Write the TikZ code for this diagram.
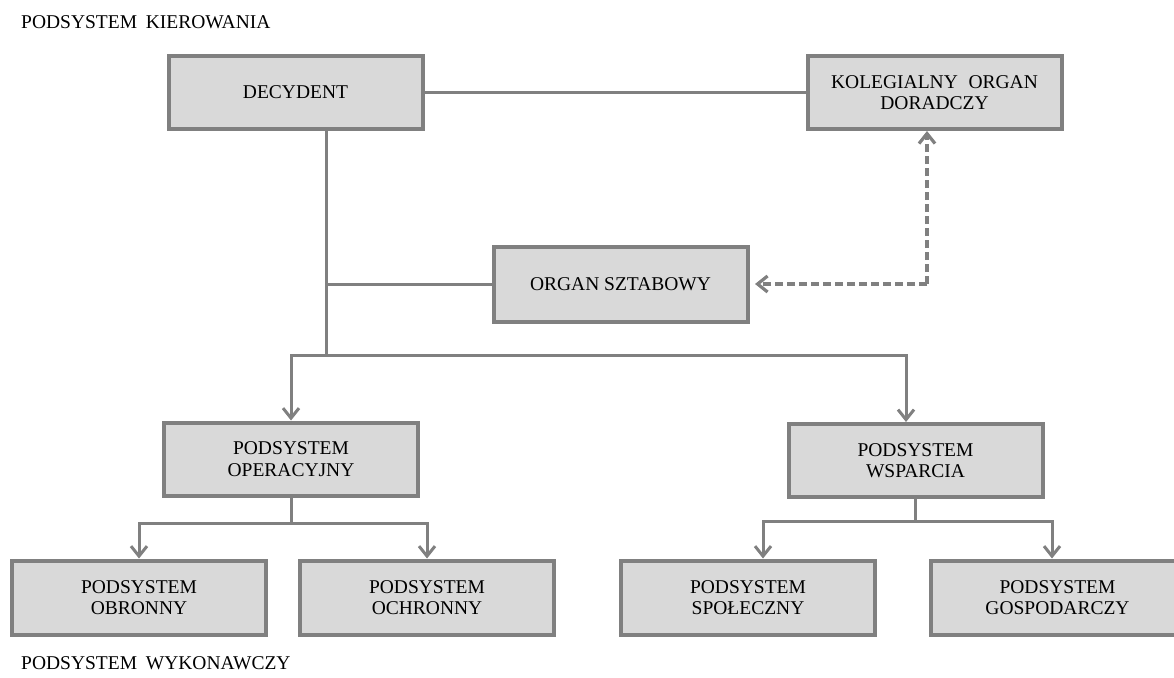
\documentclass[tikz,border=0pt]{standalone}
\usepackage{fontspec}
\setmainfont{Liberation Serif}
\usetikzlibrary{arrows.meta,calc}
\definecolor{lg}{HTML}{D9D9D9}
\definecolor{dg}{HTML}{808080}
\begin{document}
\begin{tikzpicture}[x=1pt,y=-1pt,
  box/.style={draw=dg,line width=4pt,fill=lg,minimum width=254pt,minimum height=73pt,
    inner sep=0pt,align=center,font=\fontsize{19.5}{21.5}\selectfont},
  conn/.style={draw=dg,line width=3pt},
  arr/.style={conn,-{Straight Barb[length=10pt,width=16pt]}},
  darr/.style={arr,dash pattern=on 8pt off 4pt,line width=3.2pt},
  lbl/.style={font=\fontsize{19.5}{21.5}\selectfont,inner sep=0pt,anchor=west}]
\clip (0,0) rectangle (1174,677);
\fill[white] (0,0) rectangle (1174,677);
% boxes
\node[box] (dec) at (295.5,92.5) {DECYDENT};
\node[box] (kol) at (934.5,92.5) {KOLEGIALNY\hspace{0.3em} ORGAN\\DORADCZY};
\node[box,minimum height=75pt] (org) at (620.5,284) {ORGAN SZTABOWY};
\node[box] (ope) at (291,459) {PODSYSTEM\\OPERACYJNY};
\node[box] (wsp) at (915.5,460.5) {PODSYSTEM\\WSPARCIA};
\node[box,minimum height=74pt] (obr) at (139,597.5) {PODSYSTEM\\OBRONNY};
\node[box,minimum height=74pt] (och) at (427,597.5) {PODSYSTEM\\OCHRONNY};
\node[box,minimum height=74pt] (spo) at (748,597.5) {PODSYSTEM\\SPOŁECZNY};
\node[box,minimum height=74pt] (gos) at (1057.5,597.5) {PODSYSTEM\\GOSPODARCZY};
% labels
\node[lbl] (top) at (21,22) {PODSYSTEM\hspace{0.2em} KIEROWANIA};
\node[lbl] (bot) at (21,663) {PODSYSTEM\hspace{0.2em} WYKONAWCZY};
% connectors
\draw[conn] (dec.east) -- (kol.west);
\coordinate (tr) at (326,355);
\coordinate (br) at (906,355);
\draw[conn] (dec.south -| tr) -- (tr);
\draw[conn] (org.west -| tr) -- (org.west);
\draw[arr] (tr) -| (ope.north);
\draw[arr] (tr) -- (br) -- (br |- wsp.north);
\coordinate (jo) at ($(ope.south)+(0,26)$);
\draw[conn] (ope.south) -- (jo);
\draw[arr] (jo) -| (obr.north);
\draw[arr] (jo) -| (och.north);
\coordinate (jw) at ($(wsp.south)+(0,22)$);
\draw[conn] (wsp.south) -- (jw);
\draw[arr] (jw) -| ([xshift=15pt]spo.north);
\draw[arr] (jw) -| ([xshift=-5.5pt]gos.north);
\coordinate (dc) at (927,284);
\draw[darr] (dc) -- (dc |- kol.south);
\draw[darr] (dc) -- ([xshift=5.5pt]org.east);
\end{tikzpicture}
\end{document}
